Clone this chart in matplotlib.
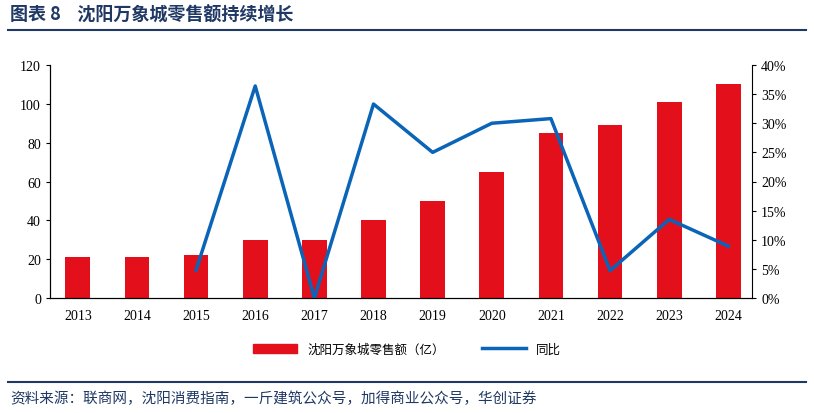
import matplotlib
matplotlib.use("Agg")
import matplotlib.pyplot as plt
from matplotlib.ticker import PercentFormatter
from matplotlib.lines import Line2D

plt.rcParams['font.family'] = ['Noto Sans CJK SC', 'DejaVu Sans']

years = ['2013','2014','2015','2016','2017','2018','2019','2020','2021','2022','2023','2024']
sales = [21, 21, 22, 30, 30, 40, 50, 65, 85, 89, 101, 110]
yoy_years = years[2:]
yoy = [4.8, 36.4, 0.0, 33.3, 25.0, 30.0, 30.8, 4.7, 13.5, 8.9]

W, H = 814, 414
fig = plt.figure(figsize=(W/100, H/100), dpi=100)
ax = fig.add_axes([50/W, 1-299/H, (752-50)/W, (299-66)/H])
x = list(range(len(years)))
ax.bar(x, sales, width=0.42, color='#E3101B', zorder=2)
ax.set_ylim(0, 120)
ax.set_yticks(range(0, 121, 20))
ax.set_xlim(-0.47, len(years)-0.6)
ax.set_xticks(x)
ax.set_xticklabels(years, family='Liberation Serif', fontsize=10)
for lab in ax.get_yticklabels():
    lab.set_family('Liberation Serif')
ax.tick_params(labelsize=10, length=3)
ax.tick_params(axis='x', length=0, pad=8)
for s in ['top', 'right']:
    ax.spines[s].set_visible(False)

ax2 = ax.twinx()
ax2.plot(x[2:], yoy, color='#0A64B8', lw=2.5, zorder=3)
ax2.set_ylim(0, 40)
ax2.set_yticks(range(0, 41, 5))
ax2.yaxis.set_major_formatter(PercentFormatter(decimals=0))
ax2.tick_params(labelsize=10, length=3)
for lab in ax2.get_yticklabels():
    lab.set_family('Liberation Serif')
ax2.spines['top'].set_visible(False)

handles = [plt.Rectangle((0, 0), 1, 1, color='#E3101B'), Line2D([0], [0], color='#0A64B8', lw=2.5)]
fig.legend(handles, ['沈阳万象城零售额（亿）', '同比'], loc='center', bbox_to_anchor=(0.5, 1-350/H),
           ncol=2, frameon=False, fontsize=9, handlelength=3.5, columnspacing=3)

fig.text(10/W, 1-15/H, '图表 8    沈阳万象城零售额持续增长', fontsize=13, fontweight='bold',
         color='#1F3864', va='center')
fig.add_artist(Line2D([8/W, 806/W], [1-31/H, 1-31/H], color='#1F3864', lw=1.5))
fig.add_artist(Line2D([8/W, 806/W], [1-383/H, 1-383/H], color='#1F3864', lw=1.5))
fig.text(10/W, 1-399/H, '资料来源：联商网，沈阳消费指南，一斤建筑公众号，加得商业公众号，华创证券',
         fontsize=10.5, style='italic', color='#1F3864', va='center')
fig.savefig('out.png', dpi=100)
